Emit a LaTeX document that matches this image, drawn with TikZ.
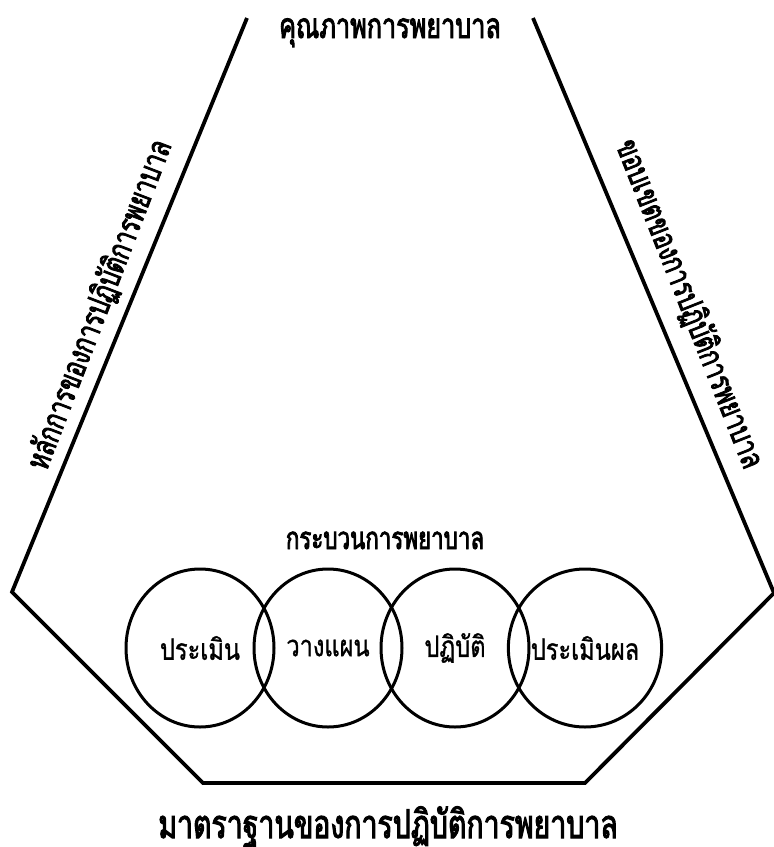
\documentclass[tikz,border=0pt]{standalone}
\usepackage{fontspec}
\usetikzlibrary{shapes.geometric}
\newfontfamily\thaiR[Script=Thai,FakeStretch=0.8,FakeBold=1]{Loma}
\newfontfamily\thaiB[Script=Thai,FakeStretch=0.72,FakeBold=2.5]{Loma}
\begin{document}
\begin{tikzpicture}[x=1pt,y=-1pt,
  frame/.style={line width=3.8pt, line join=miter},
  stage/.style={draw, ellipse, line width=3pt, minimum width=148pt, minimum height=158pt, inner sep=0pt, font=\thaiR\fontsize{29.5}{32}\selectfont},
  title/.style={font=\thaiB\fontsize{31}{34}\selectfont, inner sep=0pt, anchor=base},
  side/.style={font=\thaiB\fontsize{32.5}{35}\selectfont, inner sep=0pt},
  big/.style={font=\thaiB\fontsize{39.5}{42}\selectfont, inner sep=0pt, anchor=base}]
\useasboundingbox (0,0) rectangle (774,847);
\coordinate (tl) at (247,18);
\coordinate (l) at (12,592);
\coordinate (bl) at (203,783);
\coordinate (br) at (585,783);
\coordinate (r) at (774,593);
\coordinate (tr) at (533,18);
\draw[frame] (tl) -- (l) -- (bl) -- (br) -- (r) -- (tr);
\node[stage] (c1) at (200,648) {ประเมิน};
\node[stage] (c2) at (328,648) {วางแผน};
\node[stage] (c3) at (455,648) {ปฏิบัติ};
\node[stage] (c4) at (585,648) {ประเมินผล};
\node[title, font=\thaiB\fontsize{35}{38}\selectfont] (top) at (390,38) {คุณภาพการพยาบาล};
\node[title] (proc) at (385,549) {กระบวนการพยาบาล};
\node[big] (std) at (388,838) {มาตราฐานของการปฏิบัติการพยาบาล};
\node[side, rotate=69] (left) at (100,305) {หลักการของการปฏิบัติการพยาบาล};
\node[side, rotate=-68.4] (right) at (689,304) {ขอบเขตของการปฏิบัติการพยาบาล};
\end{tikzpicture}
\end{document}
